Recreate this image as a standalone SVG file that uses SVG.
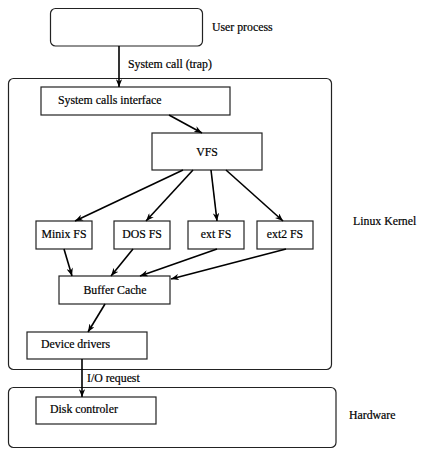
<svg xmlns="http://www.w3.org/2000/svg" width="425" height="458" viewBox="0 0 425 458">
<defs>
<marker id="ah" viewBox="0 0 10 8" refX="10" refY="4" markerWidth="8" markerHeight="6.4" markerUnits="userSpaceOnUse" orient="auto">
<path d="M0,0 L10,4 L0,8 L3,4 Z" fill="#000"/>
</marker>
</defs>
<style>
.box{fill:#fff;stroke:#222;stroke-width:1.2}
.t{font-family:"Liberation Serif",serif;font-size:11.8px;fill:#000;stroke:#000;stroke-width:0.2}
.c{text-anchor:middle}
.a{stroke:#000;stroke-width:1.6;fill:none;marker-end:url(#ah)}
</style>
<rect width="425" height="458" fill="#fff"/>
<g id="kernel"><rect class="box" x="8.5" y="78.5" width="323" height="291" rx="5"/></g>
<g id="hardware"><rect class="box" x="8.5" y="387.5" width="327.5" height="60" rx="5"/></g>
<g id="user-process"><rect class="box" x="50.5" y="8.5" width="152" height="37.5" rx="5"/></g>
<g id="syscalls"><rect class="box" x="41" y="87" width="189" height="28"/><text class="t" x="58" y="104">System calls interface</text></g>
<g id="vfs"><rect class="box" x="152" y="133" width="110" height="37"/><text class="t c" x="207" y="156">VFS</text></g>
<g id="minix"><rect class="box" x="36" y="221" width="56" height="28"/><text class="t c" x="64" y="238">Minix FS</text></g>
<g id="dos"><rect class="box" x="114" y="221" width="56" height="28"/><text class="t c" x="142" y="238">DOS FS</text></g>
<g id="ext"><rect class="box" x="188" y="221" width="56" height="28"/><text class="t c" x="216" y="238">ext FS</text></g>
<g id="ext2"><rect class="box" x="257" y="221" width="56" height="28"/><text class="t c" x="285" y="238">ext2 FS</text></g>
<g id="buffer"><rect class="box" x="59" y="276" width="111" height="28"/><text class="t c" x="115" y="294">Buffer Cache</text></g>
<g id="devdrv"><rect class="box" x="27" y="332" width="120" height="27"/><text class="t" x="41" y="348">Device drivers</text></g>
<g id="disk"><rect class="box" x="36" y="397" width="120" height="27"/><text class="t" x="50" y="413">Disk controler</text></g>
<g id="labels">
<text class="t" x="212" y="31">User process</text>
<text class="t" x="353" y="225">Linux Kernel</text>
<text class="t" x="349" y="419">Hardware</text>
<text class="t" x="128" y="68">System call (trap)</text>
<text class="t" x="87" y="382">I/O request</text>
</g>
<g id="connectors">
<line class="a" x1="119" y1="46" x2="119" y2="87"/>
<line class="a" x1="169" y1="115" x2="202" y2="133"/>
<line class="a" x1="183" y1="170" x2="75" y2="221"/>
<line class="a" x1="193" y1="170" x2="146" y2="221"/>
<line class="a" x1="211" y1="170" x2="217" y2="221"/>
<line class="a" x1="226" y1="170" x2="283" y2="221"/>
<line class="a" x1="64" y1="249" x2="72" y2="276"/>
<line class="a" x1="133" y1="249" x2="111" y2="276"/>
<line class="a" x1="217" y1="249" x2="140" y2="276"/>
<line class="a" x1="286" y1="249" x2="171" y2="279"/>
<line class="a" x1="105" y1="304" x2="88" y2="332"/>
<line class="a" x1="82" y1="359" x2="82" y2="397"/>
</g>
</svg>
